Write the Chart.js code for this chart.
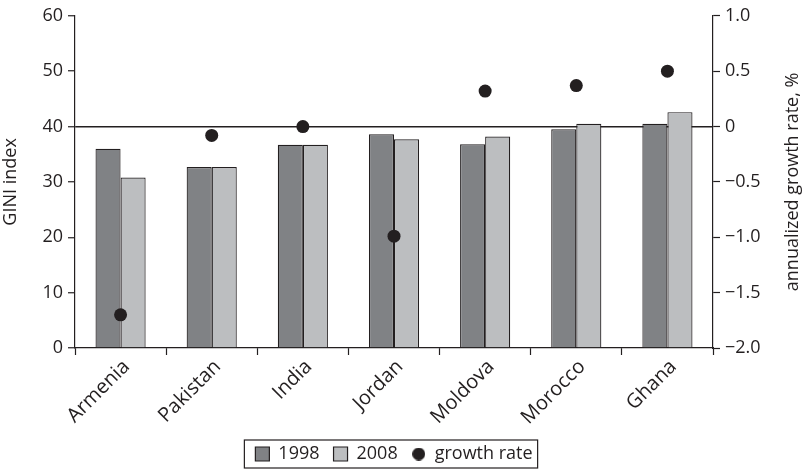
<!DOCTYPE html>
<html>
<head>
<meta charset="utf-8">
<script src="https://cdn.jsdelivr.net/npm/chart.js@4"></script>
<style>
  body { margin: 0; background: #fff; }
  #wrap { width: 807px; height: 471px; position: relative; }
</style>
</head>
<body>
<div id="wrap"><canvas id="chart"></canvas></div>
<script>
const countries = ['Armenia', 'Pakistan', 'India', 'Jordan', 'Moldova', 'Morocco', 'Ghana'];
const gini1998 = [36.0, 32.7, 36.7, 38.6, 36.8, 39.5, 40.5];
const gini2008 = [30.8, 32.7, 36.7, 37.7, 38.2, 40.5, 42.6];
const growthRate = [-1.70, -0.08, 0.00, -0.99, 0.32, 0.37, 0.50];

const ink = '#231f20';
const family = "'Open Sans', 'Noto Sans', sans-serif";
const rightTitle = 'annualized growth rate, %';

// small dot used only as the legend swatch for the growth-rate series
function dotImage(d) {
    const c = document.createElement('canvas');
    c.width = d; c.height = d;
    const g = c.getContext('2d');
    g.fillStyle = ink;
    g.beginPath();
    g.arc(d / 2, d / 2, d / 2, 0, Math.PI * 2);
    g.fill();
    return c;
}
const legendDot = dotImage(13);

// frame round the legend + right axis title reading bottom to top
const extras = {
    id: 'extras',
    afterDraw(chart) {
        const ctx = chart.ctx;
        const lg = chart.legend;
        if (lg && lg.legendHitBoxes.length) {
            const boxes = lg.legendHitBoxes;
            const first = boxes[0], last = boxes[boxes.length - 1];
            ctx.save();
            ctx.strokeStyle = ink;
            ctx.lineWidth = 1.2;
            ctx.strokeRect(first.left - 11, first.top - 5, last.left + last.width - first.left + 16, first.height + 10);
            ctx.restore();
        }
        const area = chart.chartArea;
        ctx.save();
        ctx.translate(793, (area.top + area.bottom) / 2);
        ctx.rotate(-Math.PI / 2);
        ctx.fillStyle = ink;
        ctx.font = '18px ' + family;
        ctx.textAlign = 'center';
        ctx.textBaseline = 'middle';
        ctx.fillText(rightTitle, 0, 0);
        ctx.restore();
    }
};

function growthLabel(v) {
    if (v === 0) return '0';
    return (v < 0 ? '\u2212' : '') + Math.abs(v).toFixed(1);
}

function renderChart() {
    const ctx = document.getElementById('chart').getContext('2d');
    new Chart(ctx, {
        data: {
            labels: countries,
            datasets: [
                {
                    type: 'bar',
                    label: '1998',
                    data: gini1998,
                    backgroundColor: '#808285',
                    borderColor: ink,
                    borderWidth: 1.2,
                    pointStyle: 'rect',
                    yAxisID: 'y',
                    order: 1
                },
                {
                    type: 'bar',
                    label: '2008',
                    data: gini2008,
                    backgroundColor: '#bcbec0',
                    borderColor: ink,
                    borderWidth: 1.2,
                    pointStyle: 'rect',
                    yAxisID: 'y',
                    order: 1
                },
                {
                    type: 'line',
                    label: 'growth rate',
                    data: growthRate,
                    showLine: false,
                    pointRadius: 6.5,
                    pointStyle: 'circle',
                    backgroundColor: ink,
                    borderColor: ink,
                    borderWidth: 0,
                    yAxisID: 'y2',
                    order: 0
                }
            ]
        },
        options: {
            responsive: true,
            maintainAspectRatio: false,
            animation: false,
            layout: { padding: { top: 6, left: 0, right: 0, bottom: -2 } },
            datasets: {
                bar: { categoryPercentage: 0.55, barPercentage: 1.0 }
            },
            plugins: {
                tooltip: { enabled: false },
                legend: {
                    position: 'bottom',
                    fullSize: false,
                    labels: {
                        usePointStyle: true,
                        boxHeight: 14,
                        boxWidth: 14,
                        padding: 14,
                        color: ink,
                        font: { family: family, size: 18 },
                        sort: (a, b) => a.datasetIndex - b.datasetIndex,
                        generateLabels: chart => {
                            const items = Chart.defaults.plugins.legend.labels.generateLabels(chart);
                            items.forEach(it => {
                                if (it.datasetIndex === 2) it.pointStyle = legendDot;
                            });
                            return items;
                        }
                    }
                }
            },
            scales: {
                x: {
                    offset: true,
                    grid: {
                        offset: true,
                        drawOnChartArea: false,
                        tickLength: 7,
                        tickColor: ink,
                        tickWidth: 1.2
                    },
                    border: { color: ink, width: 1.2 },
                    ticks: {
                        color: ink,
                        font: { family: family, size: 20 },
                        minRotation: 45,
                        maxRotation: 45,
                        padding: 0,
                        labelOffset: 6
                    },
                    afterFit: s => { s.height = 83; }
                },
                y: {
                    position: 'left',
                    min: 0,
                    max: 60,
                    ticks: { stepSize: 10, color: ink, font: { family: family, size: 18 }, padding: 5 },
                    grid: {
                        drawOnChartArea: true,
                        color: c => (c.tick && c.tick.value === 40) ? ink : 'rgba(0,0,0,0)',
                        lineWidth: 1.5,
                        tickColor: ink,
                        tickLength: 7,
                        tickWidth: 1.2
                    },
                    border: { color: ink, width: 1.2 },
                    title: { display: true, text: 'GINI index', color: ink, font: { family: family, size: 18 }, padding: 0 },
                    afterFit: s => { s.width = 75; }
                },
                y2: {
                    position: 'right',
                    min: -2,
                    max: 1,
                    ticks: { stepSize: 0.5, color: ink, font: { family: family, size: 18 }, padding: 5, callback: v => growthLabel(v) },
                    grid: {
                        drawOnChartArea: false,
                        tickColor: ink,
                        tickLength: 7,
                        tickWidth: 1.2
                    },
                    border: { color: ink, width: 1.2 },
                    title: { display: false },
                    afterFit: s => { s.width = 94; }
                }
            }
        },
        plugins: [extras]
    });
}
renderChart();
</script>
</body>
</html>
